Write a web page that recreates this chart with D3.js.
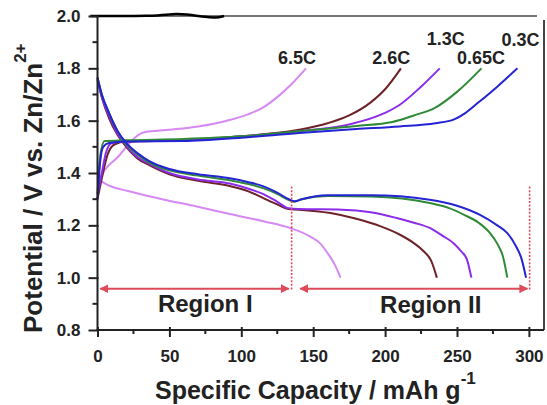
<!DOCTYPE html>
<html><head><meta charset="utf-8">
<script src="https://cdn.jsdelivr.net/npm/d3@7"></script>
<style>body{margin:0;background:#fff}svg{display:block}text{font-family:"Liberation Sans",Arial,sans-serif;font-weight:bold}</style>
</head><body><svg id="c" width="547" height="405"></svg>
<script>
// ---- data (capacity mAh/g, potential V) ----
const rates = ["0.3C","0.65C","1.3C","2.6C","6.5C"];
const charge03 = [[0,1.30],[2,1.45],[4,1.50],[8,1.515],[20,1.52],[60,1.522],[100,1.535],[140,1.553],[180,1.568],[210,1.578],[235,1.59],[248,1.605],[256,1.63],[265,1.67],[278,1.73],[292,1.80]];
const charge065 = [[0,1.32],[2,1.47],[5,1.522],[20,1.525],[60,1.53],[100,1.54],[140,1.56],[180,1.58],[205,1.595],[220,1.62],[235,1.65],[250,1.71],[267,1.80]];
const charge13 = [[0,1.32],[3,1.40],[6,1.48],[10,1.515],[20,1.52],[60,1.525],[100,1.54],[140,1.56],[170,1.58],[185,1.60],[200,1.63],[210,1.66],[225,1.73],[238,1.80]];
const charge26 = [[0,1.30],[3,1.38],[7,1.47],[12,1.51],[20,1.52],[60,1.525],[100,1.54],[140,1.565],[160,1.59],[175,1.62],[190,1.67],[200,1.72],[211,1.80]];
const charge65 = [[0,1.33],[3,1.39],[8,1.43],[14,1.46],[20,1.50],[26,1.535],[32,1.555],[50,1.565],[70,1.578],[90,1.60],[105,1.625],[115,1.65],[125,1.69],[135,1.74],[145,1.80]];
const discharge03 = [[0,1.765],[3,1.70],[8,1.63],[14,1.56],[20,1.515],[28,1.475],[36,1.445],[50,1.415],[70,1.395],[92,1.38],[105,1.365],[115,1.35],[125,1.325],[133,1.30],[137,1.292],[142,1.30],[160,1.315],[190,1.315],[231,1.298],[250,1.275],[266,1.24],[278,1.20],[285,1.17],[291,1.12],[295,1.07],[298,1.00]];
const discharge065 = [[0,1.765],[3,1.70],[8,1.63],[14,1.56],[20,1.51],[28,1.47],[36,1.44],[50,1.41],[70,1.39],[92,1.372],[105,1.358],[115,1.342],[125,1.32],[133,1.297],[137,1.29],[142,1.30],[160,1.312],[190,1.31],[231,1.285],[245,1.265],[255,1.24],[265,1.21],[273,1.17],[278,1.13],[282,1.08],[285,1.00]];
const discharge13 = [[0,1.76],[3,1.69],[8,1.62],[14,1.55],[20,1.505],[28,1.46],[36,1.435],[50,1.40],[70,1.375],[92,1.36],[105,1.34],[115,1.32],[125,1.29],[133,1.265],[140,1.262],[170,1.26],[190,1.25],[208,1.228],[220,1.21],[231,1.19],[240,1.16],[248,1.13],[253,1.10],[257,1.068],[260,1.00]];
const discharge26 = [[0,1.755],[3,1.69],[8,1.61],[14,1.545],[20,1.50],[28,1.455],[36,1.43],[50,1.395],[70,1.37],[92,1.35],[105,1.33],[115,1.305],[125,1.28],[133,1.262],[140,1.26],[162,1.247],[180,1.225],[197,1.196],[210,1.165],[220,1.132],[227,1.10],[232,1.065],[236,1.00]];
const discharge65 = [[0,1.38],[5,1.36],[22,1.33],[45,1.30],[69,1.272],[92,1.243],[116,1.215],[134,1.19],[148,1.157],[155,1.13],[160,1.094],[165,1.05],[169,1.00]];
const xTicks = [0,50,100,150,200,250,300];
const yTicks = [0.8,1.0,1.2,1.4,1.6,1.8,2.0];
const regionNames = ["Region I","Region II"];
const regionBounds = [[2,133],[141,299]];
const dividers = [135,300.5];

// ---- layout ----
const svg = d3.select("#c");
const x = d3.scaleLinear().domain([0,310.5]).range([97.5,544]);
const y = d3.scaleLinear().domain([0.8,2.0]).range([330,16]);
const colors = {"0.3C":"#2424d4","0.65C":"#2f8a36","1.3C":"#8a2cea","2.6C":"#6e2228","6.5C":"#d689f2"};
const series = [
  {r:"6.5C",c:charge65,d:discharge65},
  {r:"2.6C",c:charge26,d:discharge26},
  {r:"1.3C",c:charge13,d:discharge13},
  {r:"0.65C",c:charge065,d:discharge065},
  {r:"0.3C",c:charge03,d:discharge03}
];
const line = d3.line().x(d=>x(d[0])).y(d=>y(d[1])).curve(d3.curveMonotoneX);

// frame
svg.append("line").attr("x1",97).attr("x2",537).attr("y1",y(2.0)).attr("y2",y(2.0)).attr("stroke","#777").attr("stroke-width",2);
svg.append("line").attr("x1",544).attr("x2",544).attr("y1",20).attr("y2",y(0.8)).attr("stroke","#444").attr("stroke-width",2);
const wave = [[-5,2.0],[40,2.0],[48,2.005],[55,2.009],[62,2.006],[70,2.0],[78,1.994],[85,1.995],[88,2.0]];
svg.append("path").attr("d",d3.line().x(d=>x(d[0])).y(d=>y(d[1])).curve(d3.curveBasis)(wave)).attr("fill","none").attr("stroke","#000").attr("stroke-width",2.5);

// curves
series.forEach(s=>{
  [s.c,s.d].forEach(arr=>{
    svg.append("path").attr("d",line(arr)).attr("fill","none").attr("stroke",colors[s.r]).attr("stroke-width",2);
  });
});

// axes
const xa = svg.append("g").attr("transform",`translate(0,${y(0.8)})`)
  .call(d3.axisBottom(x).tickValues(xTicks).tickSizeOuter(0).tickSize(7).tickPadding(10).tickFormat(d3.format("d")));
xa.select(".domain").attr("stroke","#222").attr("stroke-width",2).attr("d",`M${x(0)-1},0H544`);
xa.selectAll(".tick line").attr("y1",-3).attr("stroke","#222").attr("stroke-width",2);
xa.selectAll(".tick text").attr("font-size",17).attr("fill","#222").attr("dy","0.9em");
[25,75,125,175,225,275].forEach(v=>xa.append("line").attr("x1",x(v)).attr("x2",x(v)).attr("y1",-1).attr("y2",4).attr("stroke","#222").attr("stroke-width",2));

const ya = svg.append("g").attr("transform",`translate(${x(0)},0)`)
  .call(d3.axisLeft(y).tickValues(yTicks).tickSizeOuter(0).tickSize(9).tickPadding(8).tickFormat(d3.format(".1f")));
ya.select(".domain").attr("stroke","#222").attr("stroke-width",2).attr("d",`M0,${y(2.0)}V${y(0.8)}`);
ya.selectAll(".tick line").attr("x1",1).attr("stroke","#222").attr("stroke-width",2);
ya.selectAll(".tick text").attr("font-size",17).attr("fill","#222");
[0.9,1.1,1.3,1.5,1.7,1.9].forEach(v=>ya.append("line").attr("x1",-5).attr("x2",0).attr("y1",y(v)).attr("y2",y(v)).attr("stroke","#222").attr("stroke-width",2));

// rate labels
const labelPos = {"6.5C":[125.5,1.815],"2.6C":[191,1.818],"1.3C":[229,1.89],"0.65C":[250,1.815],"0.3C":[281,1.886]};
rates.forEach(r=>{
  svg.append("text").attr("x",x(labelPos[r][0])).attr("y",y(labelPos[r][1])).attr("font-size",18).attr("fill","#222").text(r);
});

// regions
const red = "#de4a58";
const defs = svg.append("defs");
["s","e"].forEach(k=>{
  defs.append("marker").attr("id","m"+k).attr("viewBox","0 0 10 10").attr("refX",k==="e"?9:1).attr("refY",5)
    .attr("markerWidth",4.5).attr("markerHeight",4.5).attr("orient","auto")
    .append("path").attr("d",k==="e"?"M0,0L10,5L0,10z":"M10,0L0,5L10,10z").attr("fill",red);
});
regionBounds.forEach((b,i)=>{
  svg.append("line").attr("x1",x(b[0])).attr("x2",x(b[1])).attr("y1",y(0.958)).attr("y2",y(0.958))
    .attr("stroke",red).attr("stroke-width",2).attr("marker-start","url(#ms)").attr("marker-end","url(#me)");
});
dividers.forEach(v=>{
  svg.append("line").attr("x1",x(v)).attr("x2",x(v)).attr("y1",y(1.348)).attr("y2",y(0.95))
    .attr("stroke",red).attr("stroke-width",1.6).attr("stroke-dasharray","2,1.6");
});
svg.append("text").attr("x",x(42)).attr("y",312).attr("font-size",24).attr("fill","#222").text(regionNames[0]);
svg.append("text").attr("x",x(196.5)).attr("y",313).attr("font-size",24).attr("fill","#222").text(regionNames[1]);

// axis titles
const xt = svg.append("text").attr("x",155).attr("y",399).attr("font-size",25).attr("fill","#222");
xt.append("tspan").text("Specific Capacity / mAh g");
xt.append("tspan").attr("font-size",17).attr("dy",-15).text("-1");
const yt = svg.append("text").attr("transform","translate(42,333) rotate(-90)").attr("font-size",26).attr("fill","#222");
yt.append("tspan").text("Potential  / V vs. Zn/Zn");
yt.append("tspan").attr("font-size",17).attr("dy",-16).text("2+");
</script></body></html>
